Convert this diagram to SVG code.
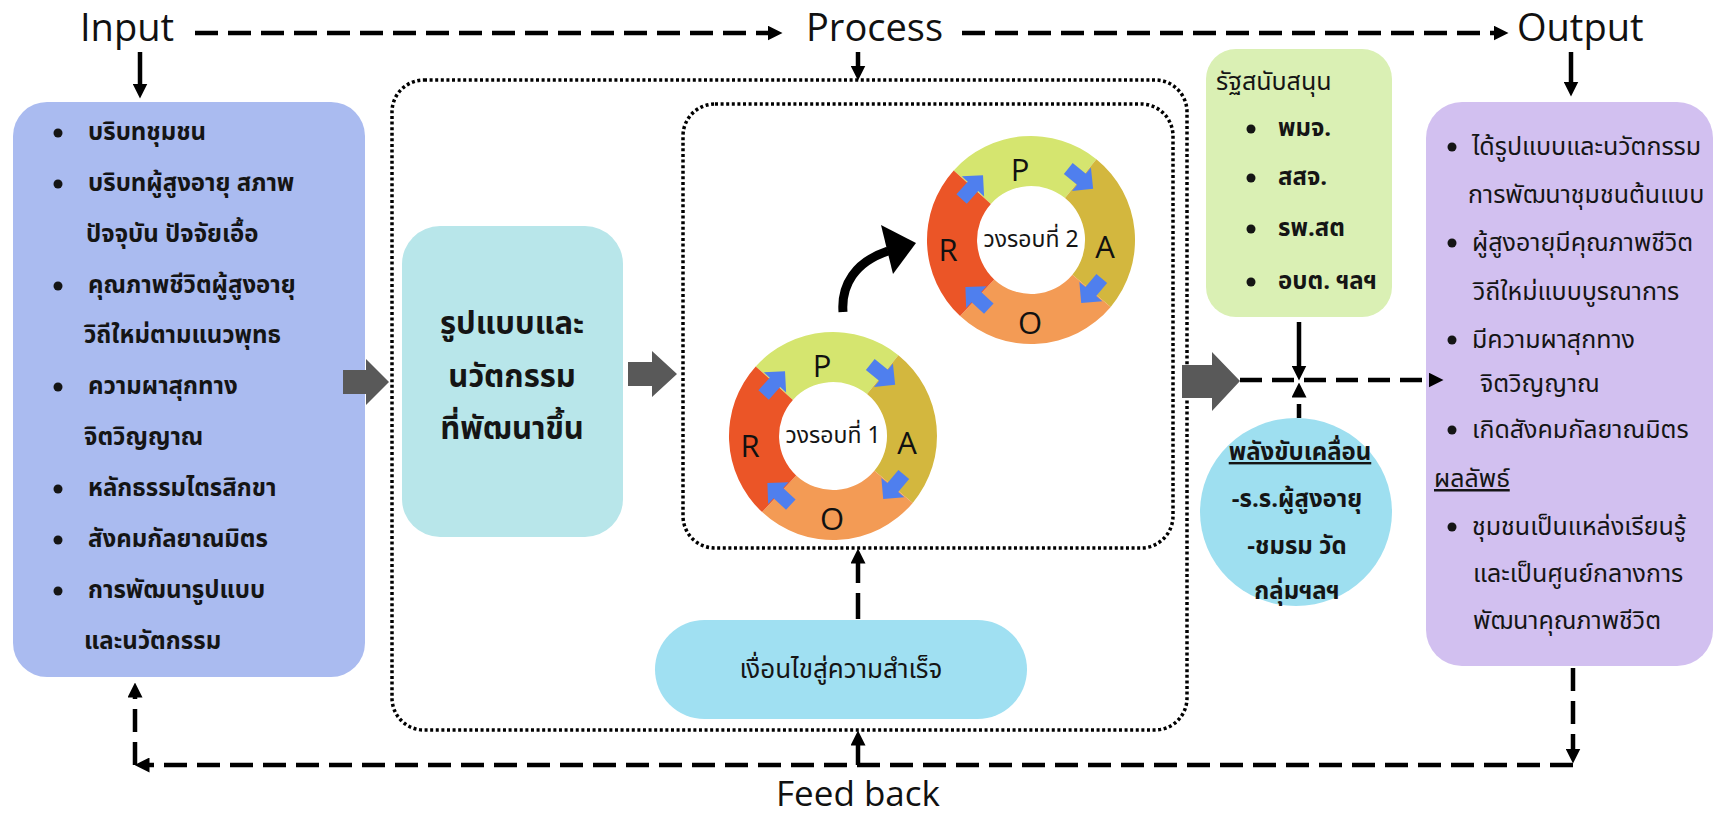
<svg xmlns="http://www.w3.org/2000/svg" xmlns:xlink="http://www.w3.org/1999/xlink" width="1713" height="816" viewBox="0 0 1713 816">
<style>
.title{font-family:'Open Sans','Liberation Sans',sans-serif;font-size:38px;fill:#111}
.th{font-family:'Noto Sans Thai','Noto Sans','DejaVu Sans',sans-serif;font-size:24px;fill:#151515}
.bd{font-weight:bold}
.lt{font-family:'Open Sans','Liberation Sans',sans-serif;font-size:31px;fill:#111;text-anchor:middle}
.ln{stroke:#000;stroke-width:4.5;fill:none}
.ds{stroke-dasharray:23 10}
.dot{stroke:#000;stroke-width:3.5;stroke-dasharray:3 2.6;fill:none}
.blk{fill:#595959}
.blue{fill:#4f7fee}
.mid{text-anchor:middle}
</style>
<defs>
<marker id="ah" viewBox="0 0 10 10" refX="5" refY="5" markerWidth="15" markerHeight="15" markerUnits="userSpaceOnUse" orient="auto"><path d="M0,0 L10,5 L0,10 Z" fill="#000"/></marker>
<polygon id="bluearrow" class="blue" points="-16,-7 1,-7 1,-15 16,0 1,15 1,7 -16,7"/>
<g id="ringShape">
<path d="M-77.3,-69.6 A104,104 0 0 1 65.4,-80.8 L34,-42 A54,54 0 0 0 -40.1,-36.1 Z" fill="#d5e56f"/>
<path d="M65.4,-80.8 A104,104 0 0 1 79.7,66.9 L41.4,34.7 A54,54 0 0 0 34,-42 Z" fill="#d3b73e"/>
<path d="M79.7,66.9 A104,104 0 0 1 -70.9,76.1 L-36.8,39.5 A54,54 0 0 0 41.4,34.7 Z" fill="#f39b55"/>
<path d="M-70.9,76.1 A104,104 0 0 1 -77.3,-69.6 L-40.1,-36.1 A54,54 0 0 0 -36.8,39.5 Z" fill="#eb5527"/>
<use href="#bluearrow" xlink:href="#bluearrow" transform="translate(49.7,-61.4) rotate(39)"/>
<use href="#bluearrow" xlink:href="#bluearrow" transform="translate(60.5,50.8) rotate(130)"/>
<use href="#bluearrow" xlink:href="#bluearrow" transform="translate(-53.9,57.8) rotate(223)"/>
<use href="#bluearrow" xlink:href="#bluearrow" transform="translate(-58.7,-52.9) rotate(-48)"/>
</g>
</defs>
<rect width="1713" height="816" fill="#fff"/>

<g id="titles">
<text class="title" x="80" y="41">Input</text>
<text class="title" x="806" y="41">Process</text>
<text class="title" x="1517" y="41">Output</text>
<text class="title mid" x="858" y="806" style="font-size:35px">Feed back</text>
</g>

<g id="process-frame">
<rect class="dot" x="392" y="80" width="795" height="650" rx="32"/>
<rect class="dot" x="683" y="104" width="490" height="444" rx="32"/>
</g>

<g id="input-box">
<rect x="13" y="102" width="352" height="575" rx="34" fill="#aabbf0"/>
<g class="th bd">
<circle cx="58" cy="133" r="4.5"/><text x="88" y="140">บริบทชุมชน</text>
<circle cx="58" cy="184" r="4.5"/><text x="88" y="191">บริบทผู้สูงอายุ สภาพ</text>
<text x="86" y="242">ปัจจุบัน ปัจจัยเอื้อ</text>
<circle cx="58" cy="286" r="4.5"/><text x="88" y="293">คุณภาพชีวิตผู้สูงอายุ</text>
<text x="84" y="343">วิถีใหม่ตามแนวพุทธ</text>
<circle cx="58" cy="387" r="4.5"/><text x="88" y="394">ความผาสุกทาง</text>
<text x="84" y="445">จิตวิญญาณ</text>
<circle cx="58" cy="489" r="4.5"/><text x="88" y="496">หลักธรรมไตรสิกขา</text>
<circle cx="58" cy="540" r="4.5"/><text x="88" y="547">สังคมกัลยาณมิตร</text>
<circle cx="58" cy="591" r="4.5"/><text x="88" y="598">การพัฒนารูปแบบ</text>
<text x="84" y="649">และนวัตกรรม</text>
</g>
</g>

<g id="model-box">
<rect x="402" y="226" width="221" height="311" rx="38" fill="#b8e6ea"/>
<g class="th bd mid" style="font-size:31px">
<text x="512" y="334">รูปแบบและ</text>
<text x="512" y="387">นวัตกรรม</text>
<text x="512" y="439">ที่พัฒนาขึ้น</text>
</g>
</g>

<g id="cycle1" transform="translate(833,436)">
<use href="#ringShape" xlink:href="#ringShape"/>
<text class="lt" x="-11" y="-59">P</text>
<text class="lt" x="74" y="18">A</text>
<text class="lt" x="-1" y="94">O</text>
<text class="lt" x="-83" y="21">R</text>
<text class="th mid" x="0" y="7" style="font-size:23px">วงรอบที่ 1</text>
</g>

<g id="cycle2" transform="translate(1031,240)">
<use href="#ringShape" xlink:href="#ringShape"/>
<text class="lt" x="-11" y="-59">P</text>
<text class="lt" x="74" y="18">A</text>
<text class="lt" x="-1" y="94">O</text>
<text class="lt" x="-83" y="21">R</text>
<text class="th mid" x="0" y="7" style="font-size:23px">วงรอบที่ 2</text>
</g>

<g id="condition">
<rect x="655" y="620" width="372" height="99" rx="49.5" fill="#a0e0f2"/>
<text class="th mid" x="841" y="678" style="font-size:26px">เงื่อนไขสู่ความสำเร็จ</text>
</g>

<g id="support-box">
<rect x="1206" y="49" width="186" height="268" rx="30" fill="#daf0b4"/>
<text class="th" x="1216" y="90" style="font-size:25px">รัฐสนับสนุน</text>
<g class="th bd">
<circle cx="1251" cy="129" r="4.5"/><text x="1278" y="136">พมจ.</text>
<circle cx="1251" cy="178" r="4.5"/><text x="1278" y="185">สสจ.</text>
<circle cx="1251" cy="229" r="4.5"/><text x="1278" y="236">รพ.สต</text>
<circle cx="1251" cy="282" r="4.5"/><text x="1278" y="289">อบต. ฯลฯ</text>
</g>
</g>

<g id="driver">
<ellipse cx="1296" cy="512" rx="96" ry="94" fill="#9edff0"/>
<g class="th bd mid">
<text x="1300" y="460" text-decoration="underline">พลังขับเคลื่อน</text>
<text x="1297" y="507">-ร.ร.ผู้สูงอายุ</text>
<text x="1297" y="554">-ชมรม วัด</text>
<text x="1297" y="599">กลุ่มฯลฯ</text>
</g>
</g>

<g id="output-box">
<rect x="1426" y="102" width="287" height="564" rx="36" fill="#d2c0f0"/>
<g class="th" style="font-size:25px">
<circle cx="1452" cy="147" r="4.5"/><text x="1472" y="155">ได้รูปแบบและนวัตกรรม</text>
<text x="1468" y="203">การพัฒนาชุมชนต้นแบบ</text>
<circle cx="1452" cy="243" r="4.5"/><text x="1472" y="251">ผู้สูงอายุมีคุณภาพชีวิต</text>
<text x="1473" y="300">วิถีใหม่แบบบูรณาการ</text>
<circle cx="1452" cy="340" r="4.5"/><text x="1472" y="348">มีความผาสุกทาง</text>
<text x="1480" y="392">จิตวิญญาณ</text>
<circle cx="1452" cy="430" r="4.5"/><text x="1472" y="438">เกิดสังคมกัลยาณมิตร</text>
<text x="1434" y="487" text-decoration="underline">ผลลัพธ์</text>
<circle cx="1452" cy="527" r="4.5"/><text x="1472" y="535">ชุมชนเป็นแหล่งเรียนรู้</text>
<text x="1473" y="582">และเป็นศูนย์กลางการ</text>
<text x="1473" y="629">พัฒนาคุณภาพชีวิต</text>
</g>
</g>

<g id="connectors">
<path class="ln ds" d="M195,33 H775" marker-end="url(#ah)"/>
<path class="ln ds" d="M962,33 H1501" marker-end="url(#ah)"/>
<path class="ln" d="M140,52 V91" marker-end="url(#ah)"/>
<path class="ln" d="M858,52 V73" marker-end="url(#ah)"/>
<path class="ln" d="M1571,52 V89" marker-end="url(#ah)"/>
<polygon class="blk" points="343,370 366,370 366,359 389,382 366,405 366,394 343,394"/>
<polygon class="blk" points="628,362 652,362 652,351 677,374 652,397 652,386 628,386"/>
<polygon class="blk" points="1182,365 1212,365 1212,352 1240,381 1212,411 1212,398 1182,398"/>
<path class="ln" style="stroke-dasharray:22 10" d="M1240,380 H1436" marker-end="url(#ah)"/>
<path class="ln" d="M1299,322 V373" marker-end="url(#ah)"/>
<path class="ln" style="stroke-dasharray:14 8" d="M1299,418 V390" marker-end="url(#ah)"/>
<path class="ln" style="stroke-dasharray:26 10" d="M858,619 V556" marker-end="url(#ah)"/>
<path class="ln ds" d="M1573,668 V756" marker-end="url(#ah)"/>
<path class="ln ds" d="M1573,765 H142" marker-end="url(#ah)"/>
<path class="ln ds" d="M135,765 V690" marker-end="url(#ah)"/>
<path class="ln" d="M858,765 V738" marker-end="url(#ah)"/>
<path d="M843,312 C841,285 855,262 888,251" fill="none" stroke="#000" stroke-width="9"/>
<polygon points="916,243 881,225 893,274" fill="#000"/>
</g>
</svg>
